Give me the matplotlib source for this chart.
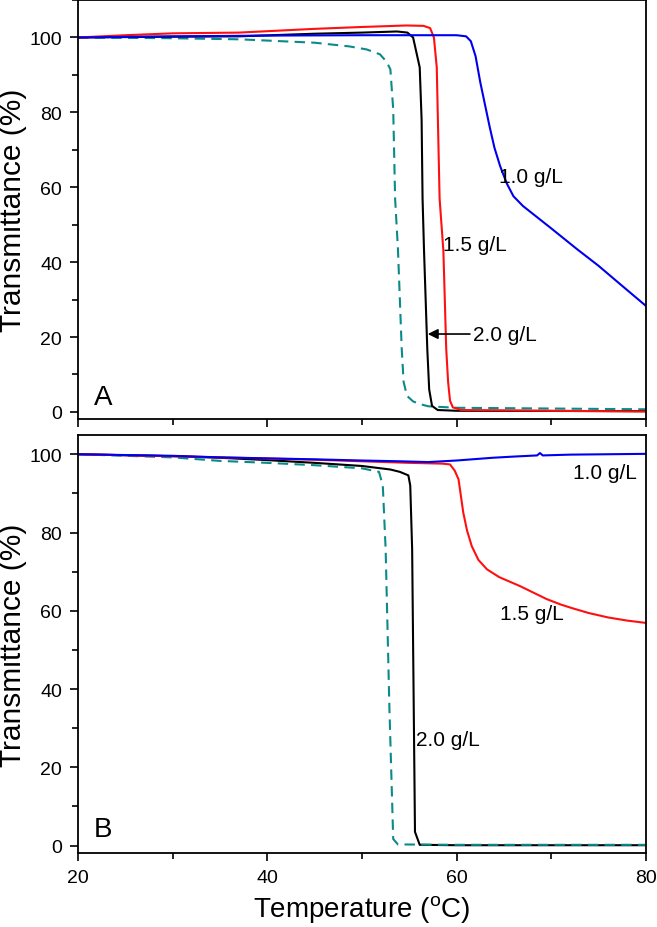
import matplotlib
matplotlib.use("Agg")
import matplotlib.pyplot as plt
from matplotlib.ticker import MultipleLocator

plt.rcParams['font.family'] = ['Liberation Sans', 'DejaVu Sans']
plt.rcParams['mathtext.fontset'] = 'custom'
plt.rcParams['mathtext.rm'] = 'Liberation Sans'

# panel A
a_blue_t = [20, 30, 40, 50, 58, 60, 61.0, 61.5, 62.0, 62.5, 63.0, 63.5, 64.0, 64.6, 65.3, 66, 67, 68.5, 70, 72.7, 75, 77, 80]
a_blue_y = [100, 100.3, 100.5, 100.6, 100.6, 100.6, 100.3, 99, 95, 88, 82, 76, 70.5, 65.6, 61, 57.6, 55, 52, 49, 43.5, 39, 34.7, 28.3]
a_red_t = [20, 25, 30, 37, 45, 50, 54.7, 56.5, 57.2, 57.6, 57.9, 58.2, 58.6, 58.9, 59.1, 59.3, 59.6, 60.5, 70, 80]
a_red_y = [100, 100.6, 101.1, 101.3, 102.3, 102.8, 103.2, 103.1, 102.5, 100, 92, 57, 43, 16.8, 8, 3, 1.2, 0.5, 0.3, 0.1]
a_blk_t = [20, 30, 37, 45, 50, 53.7, 54.8, 55.4, 56.1, 56.3, 56.4, 56.55, 56.9, 57.1, 57.4, 58, 60, 80]
a_blk_y = [100, 100.2, 100.3, 101, 101.3, 101.6, 101.3, 100, 92, 78, 57, 43.5, 16.8, 6, 1.6, 0.5, 0.3, 0.2]
a_teal_t = [20, 30, 37.1, 45, 48.7, 50.5, 51.9, 52.6, 53, 53.3, 53.5, 53.8, 54.2, 54.4, 54.75, 55.4, 56.1, 57, 60, 70, 80]
a_teal_y = [100, 99.8, 99.5, 98.6, 97.6, 96.8, 95.5, 93.5, 91.5, 80.8, 57, 43.5, 16.8, 8, 4.3, 2.8, 2.1, 1.5, 1.1, 0.9, 0.7]

# panel B
b_blue_t = [20, 30, 35, 45, 50, 54, 57, 60, 63.8, 66, 68.5, 68.8, 69.1, 72, 76, 80]
b_blue_y = [100, 99.6, 99.2, 98.7, 98.4, 98.2, 98.0, 98.4, 99.1, 99.4, 99.7, 100.3, 99.7, 99.9, 100.0, 100.1]
b_red_t = [20, 30, 35, 45, 50, 55, 58.5, 59.3, 59.8, 60.2, 60.7, 61.1, 61.6, 62.3, 63.2, 64.5, 66.7, 69.5, 71, 72.3, 74, 76, 78, 80]
b_red_y = [100, 99.5, 99.2, 98.6, 98.2, 97.8, 97.6, 97.4, 95.8, 93.6, 85.1, 80.5, 76.5, 73, 70.6, 68.6, 66.3, 63.0, 61.6, 60.6, 59.4, 58.3, 57.5, 56.9]
b_blk_t = [20, 30, 35, 40, 45, 50, 53, 54, 54.9, 55.1, 55.3, 55.6, 56.1, 60, 80]
b_blk_y = [100, 99.5, 99.1, 98.5, 97.8, 97, 96.1, 95.5, 94.6, 92, 75.7, 3.5, 0.2, 0.1, 0.1]
b_teal_t = [20, 30, 35, 40, 45, 50, 51.8, 52.2, 52.5, 52.9, 53.3, 53.8, 60, 80]
b_teal_y = [100, 99.2, 98.3, 97.8, 97.2, 96.4, 95.5, 92, 75.7, 35, 1.7, 0.3, 0.2, 0.2]

conc_labels = ["1.0 g/L", "1.5 g/L", "2.0 g/L"]

blue = '#0000ee'
red = '#ff1010'
teal = '#0a8a8a'
lw = 1.5

fig = plt.figure(figsize=(6.57, 9.28), dpi=100)
axA = fig.add_axes([0.1187, 0.5474, 0.8645, 0.4515])
axB = fig.add_axes([0.1187, 0.0797, 0.8645, 0.4504])

axA.plot(a_teal_t, a_teal_y, color=teal, lw=lw, ls=(0, (5, 3)))
axA.plot(a_blk_t, a_blk_y, color='k', lw=lw)
axA.plot(a_red_t, a_red_y, color=red, lw=lw)
axA.plot(a_blue_t, a_blue_y, color=blue, lw=lw)

axB.plot(b_blk_t, b_blk_y, color='k', lw=lw)
axB.plot(b_teal_t, b_teal_y, color=teal, lw=lw, ls=(0, (5, 3)))
axB.plot(b_red_t, b_red_y, color=red, lw=lw)
axB.plot(b_blue_t, b_blue_y, color=blue, lw=lw)

axA.set_ylim(-1.9, 110)
axB.set_ylim(-1.9, 104.9)

for ax in (axA, axB):
    ax.set_xlim(20, 80)
    ax.xaxis.set_major_locator(MultipleLocator(20))
    ax.xaxis.set_minor_locator(MultipleLocator(10))
    ax.yaxis.set_major_locator(MultipleLocator(20))
    ax.yaxis.set_minor_locator(MultipleLocator(10))
    ax.tick_params(which='both', direction='out', labelsize=14, width=1.2, pad=5.5)
    ax.tick_params(which='major', length=6)
    ax.tick_params(which='minor', length=4)
    for s in ax.spines.values():
        s.set_linewidth(1.3)
    ax.set_ylabel("Transmittance (%)", fontsize=21.5, labelpad=2)

axA.tick_params(axis='x', labelbottom=False)
axB.set_xlabel(r"Temperature ($^{\rm o}$C)", fontsize=20, labelpad=5)

axA.text(21.7, 2.0, "A", fontsize=20)
axB.text(21.7, 2.5, "B", fontsize=20)

axA.text(64.5, 63, conc_labels[0], fontsize=15, va='center')
axA.text(58.6, 44.8, conc_labels[1], fontsize=15, va='center')
axA.annotate(conc_labels[2], xy=(56.95, 20.8), xytext=(61.7, 20.8), fontsize=15, va='center',
             arrowprops=dict(arrowstyle='-|>', color='k', lw=1.2, shrinkA=0, shrinkB=0))

axB.text(72.3, 95.4, conc_labels[0], fontsize=15, va='center')
axB.text(64.55, 59.2, conc_labels[1], fontsize=15, va='center')
axB.text(55.7, 27.2, conc_labels[2], fontsize=15, va='center')

fig.savefig("out.png", dpi=100)
